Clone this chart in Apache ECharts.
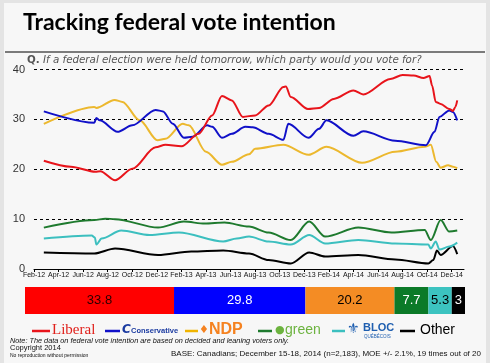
<!DOCTYPE html>
<html><head><meta charset="utf-8">
<script src="https://cdn.jsdelivr.net/npm/echarts@6/dist/echarts.min.js"></script>
<style>html,body{margin:0;padding:0;background:#e4e4e4;}#c{width:490px;height:363px;}</style>
</head><body><div id="c"></div>
<script>
// ---- data ----
var xTickLabels = ['Feb-12','Apr-12','Jun-12','Aug-12','Oct-12','Dec-12','Feb-13','Apr-13','Jun-13','Aug-13','Oct-13','Dec-13','Feb-14','Apr-14','Jun-14','Aug-14','Oct-14','Dec-14'];
var yTicks = [0, 10, 20, 30, 40];
// [months since Feb-12, vote %]
var liberal = [[0.8,21.7],[3.0,20.5],[5.0,19.5],[5.4,19.6],[6.6,17.8],[8.0,20.1],[9.9,24.4],[10.7,24.9],[12.0,24.6],[13.4,27.1],[14.5,30.8],[15.3,34.7],[16.1,33.8],[17.0,30.5],[18.0,30.8],[19.1,32.8],[20.3,36.5],[20.5,36.6],[20.9,34.5],[22.3,32.1],[23.2,32.3],[24.4,34.1],[26.0,35.8],[26.8,35.0],[29.0,38.1],[30.0,38.9],[30.9,38.8],[31.7,38.3],[32.2,38.7],[32.4,36.8],[32.7,33.5],[33.1,33.1],[33.8,32.1],[34.1,31.7],[34.3,32.5],[34.45,33.8]];
var conservative = [[0.8,31.6],[4.9,29.3],[5.08,30.3],[5.34,29.8],[6.8,27.5],[8.0,28.8],[9.9,31.9],[10.5,31.6],[11.3,29.1],[12.2,26.3],[12.9,26.5],[14.1,28.8],[14.5,28.5],[15.3,26.3],[16.1,27.1],[17.2,28.5],[17.8,28.4],[19.1,27.1],[20.3,25.9],[20.7,29.1],[22.35,26.3],[23.2,28.1],[23.8,29.8],[26.0,26.7],[26.8,27.6],[29.4,25.7],[31.9,24.8],[32.6,27.5],[33.0,30.5],[33.8,31.8],[34.1,31.5],[34.45,29.8]];
var ndp = [[0.8,29.1],[4.9,32.5],[5.08,32.3],[6.56,33.9],[7.2,33.5],[8.6,29.8],[10.06,25.8],[10.7,26.1],[12.1,29.1],[12.6,28.8],[14.0,23.5],[15.3,20.9],[16.1,21.5],[17.5,23.0],[18.0,24.1],[20.3,24.9],[22.35,22.9],[23.8,24.5],[26.7,21.3],[29.4,23.5],[31.8,24.5],[32.3,24.9],[32.74,21.5],[33.1,20.3],[33.7,20.8],[34.1,20.5],[34.45,20.2]];
var green = [[0.8,8.3],[4.9,9.8],[5.8,10.1],[6.6,10.0],[10.1,8.3],[12.2,9.5],[13.9,9.1],[15.5,9.3],[17.5,8.5],[19.1,7.3],[20.9,5.8],[22.4,9.5],[23.7,6.5],[26.4,8.3],[29.1,7.3],[31.8,7.8],[32.3,5.8],[33.1,9.8],[33.8,7.5],[34.45,7.7]];
var bloc = [[0.8,6.1],[4.7,6.7],[4.95,6.3],[5.08,4.9],[5.5,6.1],[7.1,7.7],[9.4,6.8],[11.8,7.3],[15.4,5.5],[16.5,6.1],[17.5,6.5],[19.1,5.5],[20.9,4.9],[22.4,6.8],[23.7,5.1],[26.4,5.8],[29.4,5.1],[32.1,4.9],[32.3,4.1],[32.7,5.5],[33.0,3.9],[33.8,4.5],[34.45,5.3]];
var other = [[0.8,3.3],[4.9,3.1],[6.6,4.1],[10.1,2.8],[12.8,3.5],[15.4,3.7],[17.5,3.1],[19.1,1.8],[20.9,1.1],[22.4,3.3],[23.7,2.5],[26.4,2.8],[29.4,1.9],[32.1,1.1],[32.5,1.8],[32.8,3.7],[33.1,2.8],[34.1,4.6],[34.45,3.0]];
var partyNames = ['Liberal','Conservative','NDP','green','BLOC','Other'];
var latestValues = [33.8, 29.8, 20.2, 7.7, 5.3, 3];

// ---- styling ----
var lineColors = ['#e8141b','#1010c8','#ecb82e','#1e7a2e','#3cbfbf','#000000'];
var barColors = ['#ff0000','#0000ff','#f48c24','#0b7a28','#3cc3c0','#000000'];
var barLabelColors = ['#2a0000','#ffffff','#000000','#ffffff','#000000','#ffffff'];
var lineSeriesData = [liberal, conservative, ndp, green, bloc, other];

var chart = echarts.init(document.getElementById('c'), null, {renderer:'canvas'});

var series = [];
lineSeriesData.forEach(function(d, i){
  series.push({
    type:'line', name: partyNames[i], data: d, xAxisIndex:0, yAxisIndex:0,
    smooth:0.3, smoothMonotone:'x', showSymbol:false, lineStyle:{color: lineColors[i], width:2},
    itemStyle:{color: lineColors[i]}, z: 10 - i
  });
});
latestValues.forEach(function(v, i){
  series.push({
    type:'bar', name: partyNames[i] + ' latest', stack:'latest', data:[v],
    xAxisIndex:1, yAxisIndex:1, barWidth:'100%',
    itemStyle:{color: barColors[i]},
    label:{show:true, position:'inside', formatter: String(v),
      color: barLabelColors[i], fontSize:13, fontFamily:'Liberation Sans'}
  });
});

function legendItem(x, color, lineW){
  return {type:'line', shape:{x1:x, y1:331, x2:x+lineW, y2:331}, style:{stroke:color, lineWidth:2.5}};
}

var option = {
  animation:false,
  backgroundColor:'#e4e4e4',
  grid:[
    {left:34, right:26, top:69.5, bottom:94, containLabel:false},
    {left:25, right:25, top:287, height:27}
  ],
  xAxis:[
    {type:'value', gridIndex:0, min:0, max:35, interval:2,
     axisLine:{show:true, lineStyle:{color:'#000', width:1}},
     axisTick:{show:true, length:3, lineStyle:{color:'#000'}},
     splitLine:{show:false},
     axisLabel:{showMaxLabel:false, hideOverlap:false, fontSize:7, color:'#111', margin:3, fontFamily:'Liberation Sans',
       formatter:function(v){ return (v % 2 === 0 && xTickLabels[v/2]) ? xTickLabels[v/2] : ''; }}},
    {type:'value', gridIndex:1, min:0, max:99.8, show:false}
  ],
  yAxis:[
    {type:'value', gridIndex:0, min:yTicks[0], max:yTicks[yTicks.length-1], interval:10,
     axisLine:{show:false}, axisTick:{show:false},
     splitLine:{show:true, lineStyle:{color:'#000', type:[3,3], width:1}},
     axisLabel:{fontSize:11, color:'#333', margin:9, fontFamily:'Liberation Sans'}},
    {type:'category', gridIndex:1, data:[''], show:false}
  ],
  series: series,
  graphic:[
    {type:'rect', z:-10, shape:{x:4, y:3, width:482, height:362}, style:{fill:'#f7f7f7'}},
    {type:'text', left:23, top:11, style:{text:'Tracking federal vote intention', fontFamily:'Lato', fontWeight:'bold', fontSize:23, fill:'#000'}},
    {type:'line', shape:{x1:5, y1:52, x2:485, y2:52}, style:{stroke:'#000', lineWidth:1.2}},
    {type:'text', left:27, top:54, style:{rich:{b:{fontWeight:'bold', fontSize:10.3, fill:'#555', fontFamily:'DejaVu Sans'}, i:{fontStyle:'italic', fontSize:10.3, fill:'#555', fontFamily:'DejaVu Sans'}}, text:'{b|Q.} {i|If a federal election were held tomorrow, which party would you vote for?}'}},
    // legend
    legendItem(32, lineColors[0], 18),
    {type:'text', x:52, y:323, style:{text:'Liberal', fontFamily:'Liberation Serif', fontSize:15, fill:'#e0201b'}},
    legendItem(105, lineColors[1], 15),
    {type:'text', x:122, y:324, style:{text:'C', fontFamily:'DejaVu Sans', fontWeight:'bold', fontStyle:'italic', fontSize:12, fill:'#1a3aa0'}},
    {type:'text', x:131, y:327, style:{text:'Conservative', fontFamily:'Liberation Sans', fontWeight:'bold', fontSize:7.5, fill:'#1a3aa0'}},
    legendItem(185, '#f0b400', 13),
    {type:'text', x:199, y:325, style:{text:'\u2666', fontFamily:'DejaVu Sans', fontSize:11, fill:'#f58220'}},
    {type:'text', x:209, y:322, style:{text:'NDP', fontFamily:'Liberation Sans', fontWeight:'bold', fontSize:16, fill:'#f58220'}},
    legendItem(258, lineColors[3], 14),
    {type:'text', x:275, y:325, style:{text:'\u25CF', fontFamily:'DejaVu Sans', fontSize:11, fill:'#6cb33f'}},
    {type:'text', x:285, y:323, style:{text:'green', fontFamily:'Liberation Sans', fontSize:14, fill:'#6cb33f'}},
    legendItem(332, lineColors[4], 13),
    {type:'text', x:347, y:322, style:{text:'\u269C', fontFamily:'DejaVu Sans', fontSize:14, fill:'#1f5fb0'}},
    {type:'text', x:363, y:322, style:{text:'BLOC', fontFamily:'Liberation Sans', fontWeight:'bold', fontSize:11, fill:'#1f5fb0'}},
    {type:'text', x:364, y:334, style:{text:'QU\u00C9B\u00C9COIS', fontFamily:'Liberation Sans', fontSize:4.5, fill:'#1f5fb0'}},
    legendItem(400, '#000', 15),
    {type:'text', x:420, y:323, style:{text:'Other', fontFamily:'Liberation Sans', fontSize:14, fill:'#000'}},
    // notes
    {type:'text', x:10, y:337, style:{text:'Note: The data on federal vote intention are based on decided and leaning voters only.', fontFamily:'Liberation Sans', fontStyle:'italic', fontSize:7.3, fill:'#111'}},
    {type:'text', x:10, y:344, style:{text:'Copyright 2014', fontFamily:'Liberation Sans', fontSize:7.5, fill:'#111'}},
    {type:'text', x:10, y:353, style:{text:'No reproduction without permission', fontFamily:'Liberation Sans', fontSize:5, fill:'#111'}},
    {type:'text', x:171, y:350, style:{text:'BASE: Canadians; December 15-18, 2014 (n=2,183), MOE +/- 2.1%, 19 times out of 20', fontFamily:'Liberation Sans', fontSize:8, fill:'#111'}}
  ]
};
chart.setOption(option);
</script></body></html>
